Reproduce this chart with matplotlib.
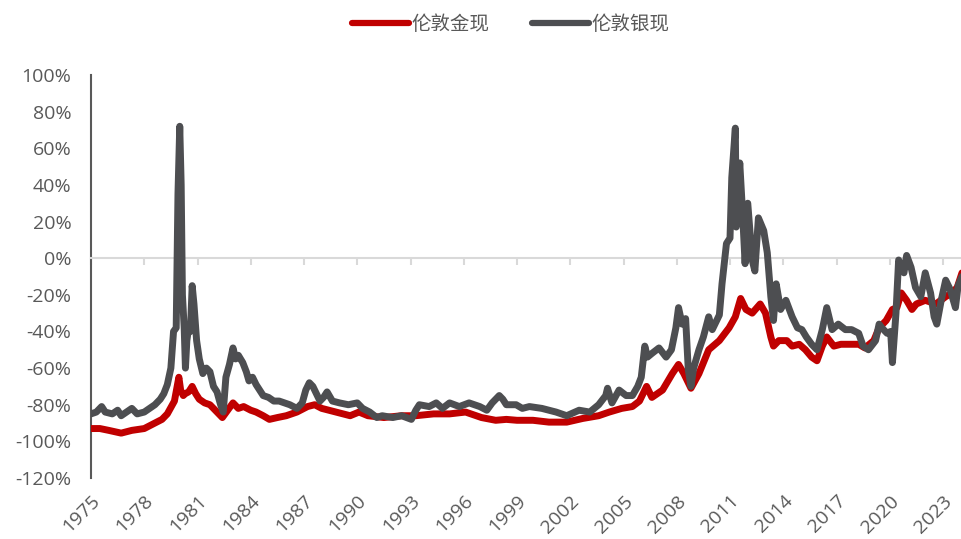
# coding: utf8

import matplotlib
matplotlib.use('Agg')
import matplotlib.pyplot as plt

# dates (decimal years) and values (%)
gold_t = [1975.0, 1975.5, 1976.0, 1976.7, 1977.3, 1978.0, 1978.6, 1979.0, 1979.3, 1979.7,
          1979.95, 1980.05, 1980.2, 1980.3, 1980.5, 1980.7, 1980.9, 1981.1, 1981.4, 1981.7,
          1982.0, 1982.4, 1982.7, 1983.0, 1983.3, 1983.6, 1984.0, 1984.3, 1984.7, 1985.05,
          1985.5, 1986.0, 1986.6, 1987.2, 1987.6, 1988.0, 1988.4, 1988.8, 1989.6, 1990.1,
          1990.6, 1991.5, 1992.5, 1993.3, 1994.3, 1995.2, 1996.1, 1997.0, 1997.8, 1998.4,
          1999.0, 1999.9, 2000.8, 2001.8, 2002.7, 2003.6, 2004.2, 2004.9, 2005.5, 2005.9,
          2006.3, 2006.6, 2007.2, 2007.75, 2008.1, 2008.4, 2008.8, 2009.25, 2009.8, 2010.4,
          2010.95, 2011.3, 2011.6, 2011.9, 2012.25, 2012.7, 2013.0, 2013.3, 2013.45, 2013.75,
          2014.2, 2014.5, 2014.9, 2015.25, 2015.6, 2015.9, 2016.2, 2016.45, 2016.85, 2017.25,
          2017.7, 2018.25, 2018.6, 2019.1, 2019.4, 2019.8, 2020.15, 2020.4, 2020.65, 2020.95,
          2021.25, 2021.5, 2022.0, 2022.6, 2023.15, 2023.5, 2023.8, 2024.07]
gold_v = [-93, -93, -94, -95.5, -94, -93, -90, -88, -85, -78,
          -65, -72, -75, -74, -73, -70, -74, -77, -79, -80,
          -83, -87, -83, -79, -82, -81, -83, -84, -86, -88,
          -87, -86, -84, -81, -80, -82, -83, -84, -86, -84,
          -86, -87, -86, -86, -85, -85, -84, -87, -88.5, -88,
          -88.5, -88.5, -89.5, -89.5, -87.5, -86, -84, -82, -81, -78,
          -70, -76, -72, -63, -58, -63, -71, -63, -50, -45,
          -38, -32, -22, -28, -30, -25, -30, -43, -48, -45,
          -45, -48, -47, -50, -54, -56, -48, -43, -48, -47,
          -47, -47, -49, -45, -38, -34, -28, -27, -19, -23,
          -28, -25, -23, -25, -21, -19, -16, -8]

silver_t = [1975.0, 1975.3, 1975.6, 1975.8, 1976.2, 1976.5, 1976.7, 1977.0, 1977.3, 1977.6,
            1978.0, 1978.3, 1978.6, 1978.9, 1979.1, 1979.3, 1979.5, 1979.65, 1979.8, 1979.9,
            1980.0, 1980.08, 1980.15, 1980.25, 1980.32, 1980.4, 1980.5, 1980.6, 1980.7, 1980.8,
            1980.95, 1981.1, 1981.3, 1981.5, 1981.7, 1981.9, 1982.1, 1982.3, 1982.45, 1982.6,
            1982.8, 1983.0, 1983.15, 1983.3, 1983.55, 1983.75, 1983.9, 1984.1, 1984.3, 1984.5,
            1984.7, 1985.0, 1985.3, 1985.6, 1985.9, 1986.2, 1986.6, 1986.9, 1987.1, 1987.3,
            1987.5, 1987.7, 1987.9, 1988.1, 1988.3, 1988.6, 1989.0, 1989.5, 1990.0, 1990.3,
            1990.7, 1991.1, 1991.4, 1992.0, 1992.5, 1993.05, 1993.3, 1993.5, 1994.05, 1994.45,
            1994.8, 1995.2, 1995.75, 1996.3, 1996.9, 1997.3, 1997.6, 1998.0, 1998.2, 1998.4,
            1998.95, 1999.3, 1999.7, 2000.4, 2001.2, 2001.8, 2002.5, 2003.1, 2003.6, 2004.0,
            2004.1, 2004.35, 2004.75, 2005.15, 2005.5, 2005.8, 2006.0, 2006.2, 2006.35, 2006.6,
            2007.0, 2007.4, 2007.7, 2007.95, 2008.1, 2008.3, 2008.5, 2008.65, 2008.8, 2008.95,
            2009.25, 2009.5, 2009.8, 2010.0, 2010.4, 2010.55, 2010.8, 2011.0, 2011.1, 2011.3,
            2011.35, 2011.55, 2011.7, 2011.85, 2012.0, 2012.25, 2012.4, 2012.6, 2012.9, 2013.1,
            2013.3, 2013.45, 2013.6, 2013.85, 2014.15, 2014.5, 2014.8, 2015.05, 2015.3, 2015.6,
            2015.9, 2016.2, 2016.45, 2016.75, 2017.1, 2017.5, 2017.85, 2018.25, 2018.5, 2018.8,
            2019.2, 2019.4, 2019.55, 2019.85, 2020.05, 2020.15, 2020.35, 2020.5, 2020.8, 2020.95,
            2021.2, 2021.45, 2021.75, 2022.0, 2022.3, 2022.5, 2022.65, 2022.9, 2023.15, 2023.4,
            2023.7, 2023.85, 2024.07]
silver_v = [-85, -84, -81, -84, -85, -83, -86, -84, -82, -85,
            -84, -82, -80, -77, -74, -69, -60, -40, -38, 35,
            72, 40, -20, -38, -60, -45, -38, -40, -15, -25,
            -45, -55, -63, -60, -62, -70, -73, -80, -84, -65,
            -58, -49, -55, -53, -57, -62, -67, -65, -69, -72,
            -75, -76, -78, -78, -79, -80, -82, -79, -72, -68,
            -70, -74, -78, -76, -73, -78, -79, -80, -79, -82,
            -84, -87, -86, -87, -86, -88, -83, -80, -81, -79,
            -82, -79, -81, -79, -81, -83, -79, -75, -77, -80,
            -80, -82, -81, -82, -84, -86, -83, -84, -80, -75,
            -71, -79, -72, -75, -75, -70, -65, -48, -54, -52,
            -49, -54, -50, -38, -27, -36, -33, -61, -70, -60,
            -50, -43, -32, -39, -31, -14, 8, 11, 44, 71,
            17, 52, 26, -3, 30, -1, -7, 22, 15, 3,
            -21, -34, -14, -28, -23, -32, -38, -39, -43, -47,
            -50, -39, -27, -39, -36, -39, -39, -41, -48, -50,
            -45, -36, -38, -41, -40, -57, -30, -1, -8, 1.5,
            -5, -16, -21, -8, -19, -32, -36, -23, -12, -17,
            -27, -15, -10]

year_ticks = list(range(1975, 2024, 3))
pct_ticks = list(range(-120, 101, 20))

label_color = '#595959'
tick_font = ['Open Sans', 'DejaVu Sans']

fig = plt.figure(figsize=(9.62, 5.39), dpi=100)
ax = fig.add_axes([91 / 962, 1 - 478 / 539, 871 / 962, 403 / 539])

ax.plot(gold_t, gold_v, color='#C00000', lw=5, solid_joinstyle='round',
        solid_capstyle='round', label='伦敦金现', zorder=3)
ax.plot(silver_t, silver_v, color='#4D4E51', lw=5, solid_joinstyle='round',
        solid_capstyle='round', label='伦敦银现', zorder=4)

ax.set_xlim(1975, 2024.07)
ax.set_ylim(-120, 100)

# y axis
ax.set_yticks(pct_ticks)
ax.set_yticklabels(['{}%'.format(v) for v in pct_ticks], family=tick_font,
                   fontsize=14, color=label_color)
ax.tick_params(axis='y', length=0, pad=14)

# category axis crossing at 0, labels kept at the bottom
ax.spines['bottom'].set_position(('data', 0))
ax.spines['bottom'].set_color('#D9D9D9')
ax.spines['bottom'].set_linewidth(1.5)
ax.spines['left'].set_color(label_color)
ax.spines['left'].set_linewidth(1.5)
ax.spines['top'].set_visible(False)
ax.spines['right'].set_visible(False)
ax.set_xticks(year_ticks)
ax.tick_params(axis='x', direction='out', length=5, width=1.5, color='#D9D9D9', labelbottom=False)

secax = ax.secondary_xaxis('bottom')
secax.set_xticks(year_ticks)
secax.set_xticklabels([str(y) for y in year_ticks], rotation=45, ha='right', va='top',
                      rotation_mode='anchor', family=tick_font,
                      fontsize=14, color=label_color)
secax.tick_params(length=0, pad=10)
secax.spines['bottom'].set_visible(False)

fig.legend(loc='center', bbox_to_anchor=(511 / 962, 1 - 24 / 539), ncol=2, frameon=False,
           prop={'family': ['Noto Sans CJK SC', 'DejaVu Sans'], 'size': 14},
           labelcolor=label_color, handlelength=2.9, handletextpad=0.15, columnspacing=2.2)
for line in fig.legends[0].get_lines():
    line.set_linewidth(4.5)
    line.set_solid_capstyle('round')

fig.savefig('out.png', dpi=100)
